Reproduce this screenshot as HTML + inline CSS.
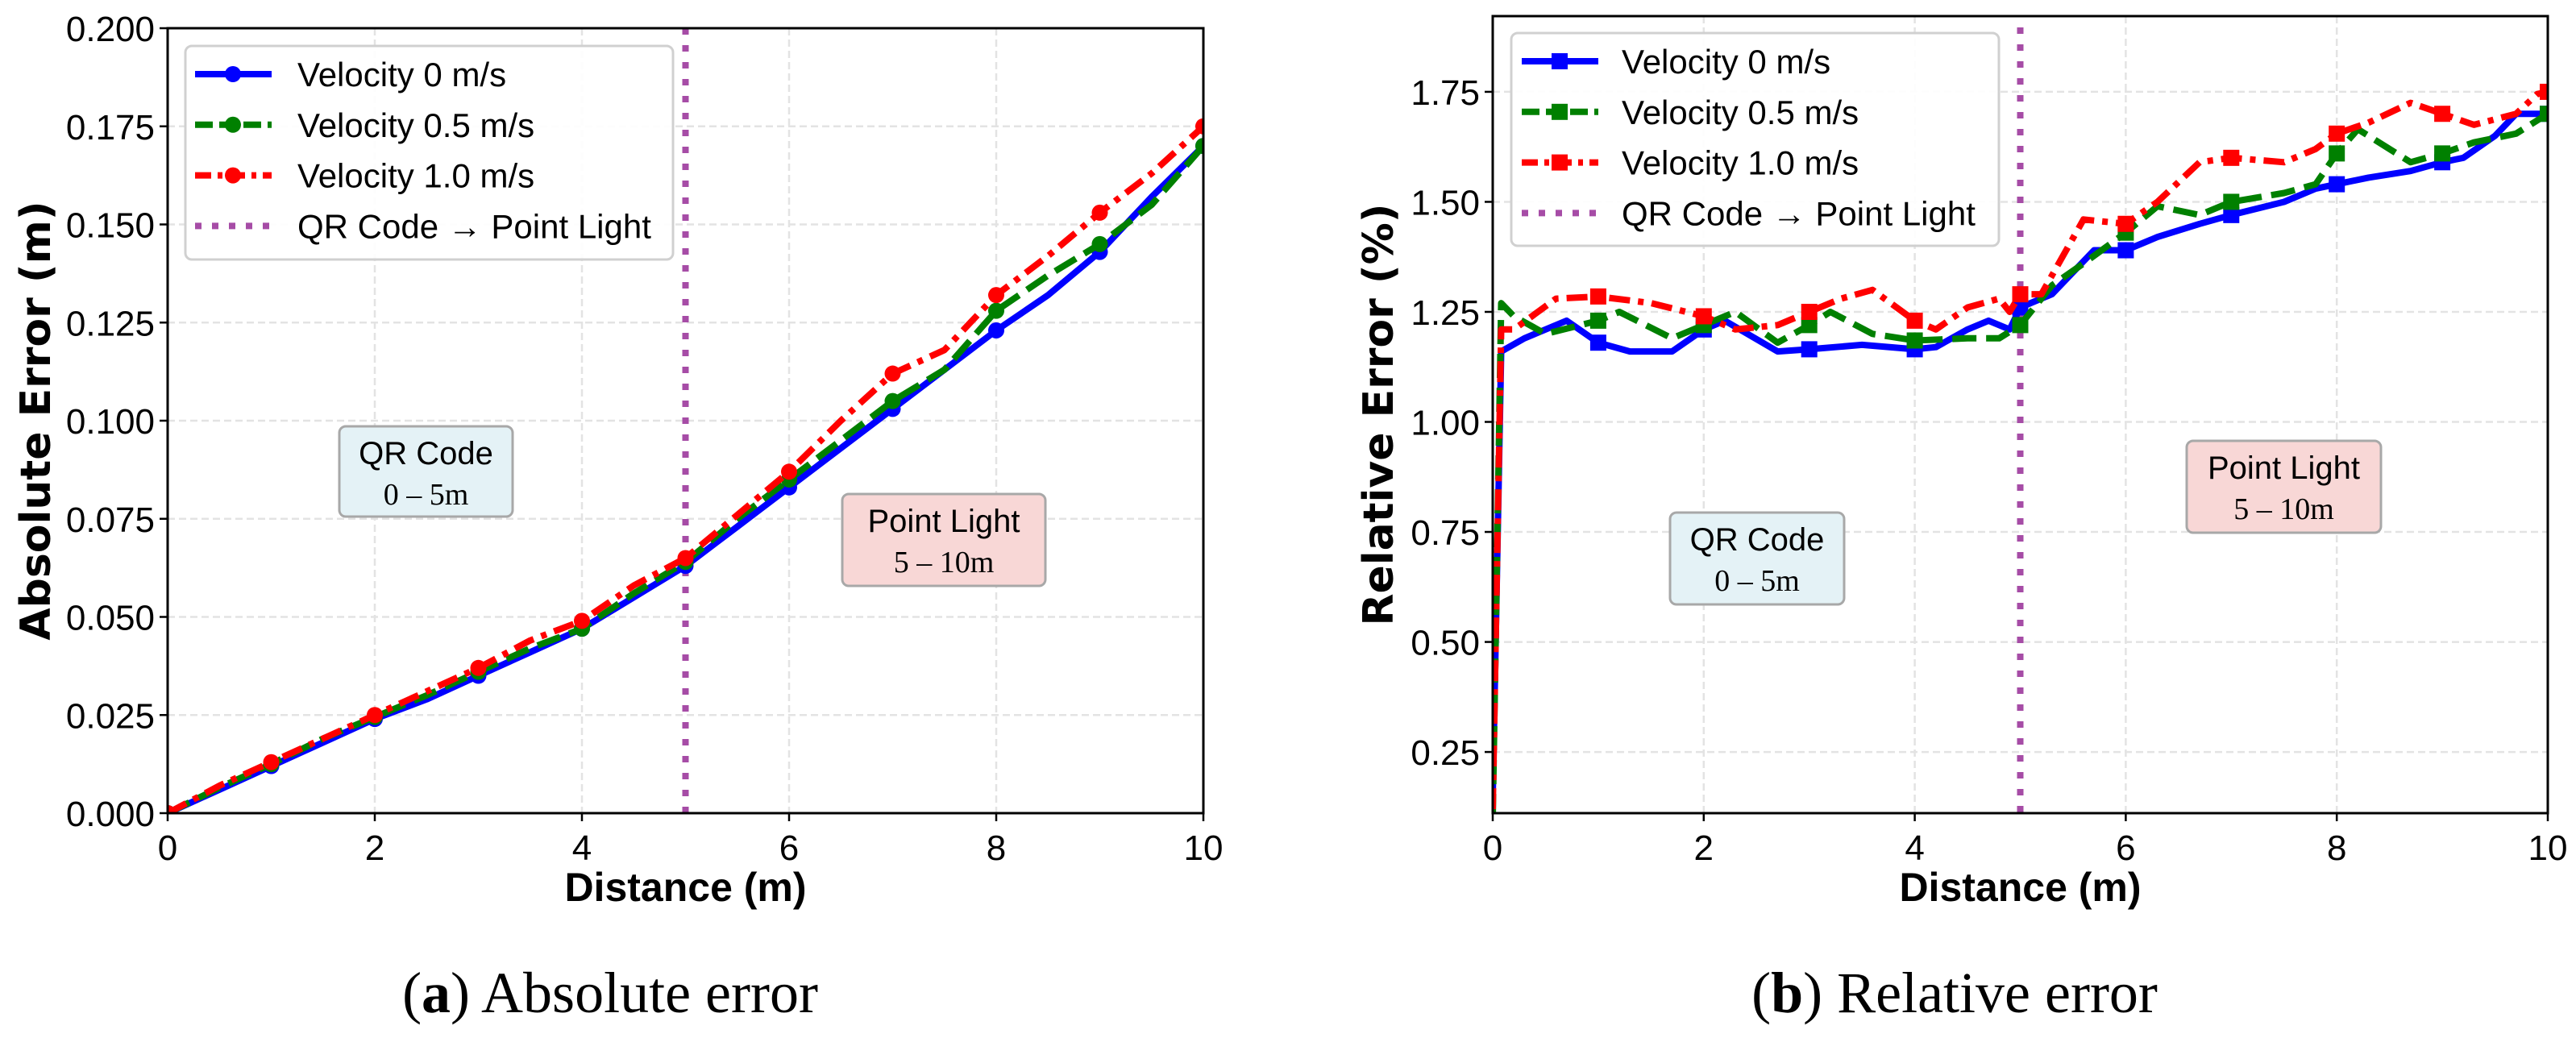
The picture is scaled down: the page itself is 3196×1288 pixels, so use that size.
<!DOCTYPE html>
<html><head><meta charset="utf-8"><style>
html,body{margin:0;padding:0;background:#fff;}
svg{display:block;}
</style></head><body>
<svg id="fig" width="3196" height="1288" xmlns="http://www.w3.org/2000/svg" font-family="'Liberation Sans', sans-serif"></svg>
<script>
// ---- data: panel (a) absolute error ----
const absX = [0,0.5,1,1.5,2,2.5,3,3.5,4,4.5,5,5.5,6,6.5,7,7.5,8,8.5,9,9.5,10];
const absV0 = [0,0.006,0.012,0.018,0.024,0.029,0.035,0.041,0.047,0.055,0.063,0.073,0.083,0.093,0.103,0.113,0.123,0.132,0.143,0.157,0.170];
const absV05 = [0,0.0065,0.0125,0.019,0.0245,0.030,0.036,0.042,0.047,0.056,0.064,0.075,0.085,0.095,0.105,0.113,0.128,0.137,0.145,0.155,0.170];
const absV1 = [0,0.007,0.013,0.019,0.025,0.031,0.037,0.044,0.049,0.058,0.065,0.076,0.087,0.100,0.112,0.118,0.132,0.142,0.153,0.163,0.175];
const absTicksY = [0,0.025,0.05,0.075,0.1,0.125,0.15,0.175,0.2];
const ticksX = [0,2,4,6,8,10];
// ---- data: panel (b) relative error ----
const relX0 = [0,0.08,0.3,0.7,1.0,1.3,1.7,2.0,2.2,2.7,3.0,3.5,4.0,4.2,4.5,4.7,4.9,5.0,5.3,5.7,6.0,6.3,6.7,7.0,7.5,7.8,8.0,8.3,8.7,9.0,9.2,9.5,9.7,10];
const relV0 = [0.15,1.16,1.19,1.23,1.18,1.16,1.16,1.21,1.23,1.16,1.165,1.175,1.165,1.17,1.21,1.23,1.21,1.26,1.29,1.39,1.39,1.42,1.45,1.47,1.50,1.53,1.54,1.555,1.57,1.59,1.60,1.65,1.70,1.70];
const relX05 = [0,0.08,0.2,0.5,1.0,1.2,1.7,2.0,2.3,2.7,3.0,3.2,3.6,4.0,4.5,4.8,5.0,5.3,5.6,6.0,6.3,6.7,7.0,7.5,7.8,8.0,8.2,8.7,9.0,9.3,9.7,10];
const relV05 = [0.1,1.27,1.24,1.20,1.23,1.25,1.19,1.22,1.25,1.18,1.22,1.25,1.20,1.185,1.19,1.19,1.22,1.31,1.36,1.43,1.49,1.47,1.50,1.52,1.54,1.61,1.665,1.59,1.61,1.635,1.655,1.70];
const relX1 = [0,0.08,0.2,0.6,1.0,1.5,2.0,2.3,2.7,3.0,3.3,3.6,4.0,4.2,4.5,4.8,4.9,5.0,5.2,5.6,6.0,6.3,6.7,7.0,7.5,7.8,8.0,8.3,8.7,9.0,9.3,9.7,9.9,10];
const relV1 = [0.12,1.21,1.21,1.28,1.285,1.27,1.24,1.21,1.22,1.25,1.28,1.30,1.23,1.21,1.26,1.28,1.25,1.29,1.29,1.46,1.45,1.50,1.59,1.60,1.59,1.62,1.655,1.68,1.725,1.70,1.675,1.70,1.745,1.75];
const relTicksY = [0.25,0.5,0.75,1.0,1.25,1.5,1.75];
const markerX = [0,1,2,3,4,5,6,7,8,9,10];
const legendLabels = ["Velocity 0 m/s","Velocity 0.5 m/s","Velocity 1.0 m/s","QR Code \u2192 Point Light"];

const NS="http://www.w3.org/2000/svg";
const svg=document.getElementById('fig');
function mk(tag,attrs,parent){const e=document.createElementNS(NS,tag);for(const k in attrs)e.setAttribute(k,attrs[k]);(parent||svg).appendChild(e);return e;}
function interp(xs,ys,x){for(let i=0;i<xs.length-1;i++){if(x>=xs[i]&&x<=xs[i+1]){const t=(x-xs[i])/(xs[i+1]-xs[i]);return ys[i]+t*(ys[i+1]-ys[i]);}}return ys[ys.length-1];}

const styles=[{c:'#0000ff',d:'none'},{c:'#008000',d:'30 12'},{c:'#ff0000',d:'26 10 7 10'}];

function panel(P){
  const g=mk('g',{});
  
  
  const sx=v=>P.x0+(v-P.xmin)/(P.xmax-P.xmin)*(P.x1-P.x0);
  const sy=v=>P.y1-(v-P.ymin)/(P.ymax-P.ymin)*(P.y1-P.y0);
  P.yt.forEach(v=>{const l=mk('line',{x1:P.x0,x2:P.x1,y1:sy(v),y2:sy(v),stroke:'#e3e3e3','stroke-width':2.5,'stroke-dasharray':'9 5'},g);});
  ticksX.forEach(v=>{const l=mk('line',{x1:sx(v),x2:sx(v),y1:P.y0,y2:P.y1,stroke:'#e3e3e3','stroke-width':2.5,'stroke-dasharray':'9 5'},g);});
  const cp=mk('clipPath',{id:P.name+'-clip'},g);mk('rect',{x:P.x0,y:P.y0,width:P.x1-P.x0,height:P.y1-P.y0},cp);
  const cg=mk('g',{'clip-path':'url(#'+P.name+'-clip)'},g);
  const vl=mk('line',{x1:sx(5),x2:sx(5),y1:P.y0+(P.vtop||0),y2:P.y1,stroke:'#a64ca6','stroke-width':8,'stroke-dasharray':'8 13'},cg);
  
  P.series.forEach((s,i)=>{
    const st=styles[i];
    const pts=s.xs.map((x,j)=>sx(x).toFixed(1)+','+sy(s.ys[j]).toFixed(1)).join(' ');
    const pl=mk('polyline',{points:pts,fill:'none',stroke:st.c,'stroke-width':8,'stroke-dasharray':st.d,'stroke-linejoin':'round'},cg);
    
    markerX.forEach(mx=>{
      if(P.skipMarker0&&mx===0)return;
      const yv=interp(s.xs,s.ys,mx);
      let m;
      if(P.square) m=mk('rect',{x:sx(mx)-10,y:sy(yv)-10,width:20,height:20,fill:st.c},cg);
      else m=mk('circle',{cx:sx(mx),cy:sy(yv),r:10,fill:st.c},cg);
      
    });
  });
  const fr=mk('rect',{x:P.x0,y:P.y0,width:P.x1-P.x0,height:P.y1-P.y0,fill:'none',stroke:'#000','stroke-width':3},g);
  
  P.yt.forEach(v=>{mk('line',{x1:P.x0-10,x2:P.x0,y1:sy(v),y2:sy(v),stroke:'#000','stroke-width':2.5},g);
    const t=mk('text',{x:P.x0-16,y:sy(v)+16,'text-anchor':'end','font-size':44,fill:'#000'},g);t.textContent=v.toFixed(P.dec);
    });
  ticksX.forEach(v=>{mk('line',{x1:sx(v),x2:sx(v),y1:P.y1,y2:P.y1+10,stroke:'#000','stroke-width':2.5},g);
    const t=mk('text',{x:sx(v),y:P.y1+58,'text-anchor':'middle','font-size':44,fill:'#000'},g);t.textContent=v;
    });
  const xt=mk('text',{x:(P.x0+P.x1)/2,y:1118,'text-anchor':'middle','font-size':50,'font-weight':'bold',fill:'#000'},g);xt.textContent='Distance (m)';
  
  const yc=(P.y0+P.y1)/2;
  const yt=mk('text',{x:P.ylx,y:yc,'text-anchor':'middle','font-size':52,'font-weight':'bold',fill:'#000','font-family':"'DejaVu Sans', sans-serif",transform:'rotate(-90 '+P.ylx+' '+yc+')'},g);yt.textContent=P.ylabel;
  
  const L=P.leg;
  const lg=mk('g',{},g);
  mk('rect',{x:L.x,y:L.y,width:L.w,height:L.h,rx:8,fill:'#fff','fill-opacity':0.9,stroke:'#d0d0d0','stroke-width':3},lg);
  legendLabels.forEach((lab,i)=>{
    const ry=L.r0+i*62.8;
    const e=mk('g',{},lg);
    if(i<3){
      mk('line',{x1:L.lx,x2:L.lx+95,y1:ry,y2:ry,stroke:styles[i].c,'stroke-width':8,'stroke-dasharray':styles[i].d==='none'?'none':(i===1?'22 8':'20 8 6 8')},e);
      if(P.square) mk('rect',{x:L.lx+37,y:ry-10,width:20,height:20,fill:styles[i].c},e);
      else mk('circle',{cx:L.lx+47,cy:ry,r:10,fill:styles[i].c},e);
    } else {
      mk('line',{x1:L.lx,x2:L.lx+95,y1:ry,y2:ry,stroke:'#a64ca6','stroke-width':8,'stroke-dasharray':'8 13'},e);
    }
    const t=mk('text',{x:L.tx,y:ry+15,'font-size':42,fill:'#000'},e);t.textContent=lab;
  });
  P.notes.forEach(n=>{
    const a=mk('g',{},g);
    mk('rect',{x:n.x,y:n.y,width:n.w,height:n.h,rx:8,fill:n.fill,stroke:'#a8a8a8','stroke-width':3},a);
    const t1=mk('text',{x:n.x+n.w/2,y:n.y+47,'text-anchor':'middle','font-size':40,fill:'#000'},a);t1.textContent=n.t1;
    const t2=mk('text',{x:n.x+n.w/2,y:n.y+97,'text-anchor':'middle','font-size':38,fill:'#000','font-family':"'Liberation Serif', serif"},a);t2.textContent=n.t2;
  });
  const cap=mk('text',{x:P.capx,y:1256,'text-anchor':'middle','font-size':72,fill:'#000','font-family':"'Liberation Serif', serif"},g);
  cap.innerHTML='(<tspan font-weight="bold">'+P.capL+'</tspan>) '+P.capT;
  
}

panel({name:'absolute-error-chart',x0:208,x1:1493,y0:35,y1:1009,xmin:0,xmax:10,ymin:0,ymax:0.2,yt:absTicksY,dec:3,
  series:[{xs:absX,ys:absV0},{xs:absX,ys:absV05},{xs:absX,ys:absV1}],
  ylx:62,ylabel:'Absolute Error (m)',
  leg:{x:230,y:57,w:605,h:265,r0:92,lx:242,tx:369},
  notes:[{name:'qr-code-annotation',x:421,y:529,w:215,h:112,fill:'#e4f2f6',t1:'QR Code',t2:'0 \u2013 5m'},
         {name:'point-light-annotation',x:1045,y:613,w:252,h:114,fill:'#f8d7d6',t1:'Point Light',t2:'5 \u2013 10m'}],
  capx:757,capL:'a',capT:'Absolute error'});

panel({name:'relative-error-chart',x0:1852,x1:3161,y0:20,y1:1009,xmin:0,xmax:10,ymin:0.111,ymax:1.922,yt:relTicksY,dec:2,square:true,skipMarker0:true,vtop:14,
  series:[{xs:relX0,ys:relV0},{xs:relX05,ys:relV05},{xs:relX1,ys:relV1}],
  ylx:1728,ylabel:'Relative Error (%)',
  leg:{x:1875,y:41,w:605,h:264,r0:76,lx:1888,tx:2012},
  notes:[{name:'qr-code-annotation',x:2072,y:636,w:216,h:114,fill:'#e4f2f6',t1:'QR Code',t2:'0 \u2013 5m'},
         {name:'point-light-annotation',x:2713,y:547,w:241,h:114,fill:'#f8d7d6',t1:'Point Light',t2:'5 \u2013 10m'}],
  capx:2425,capL:'b',capT:'Relative error'});
</script>
</body></html>
